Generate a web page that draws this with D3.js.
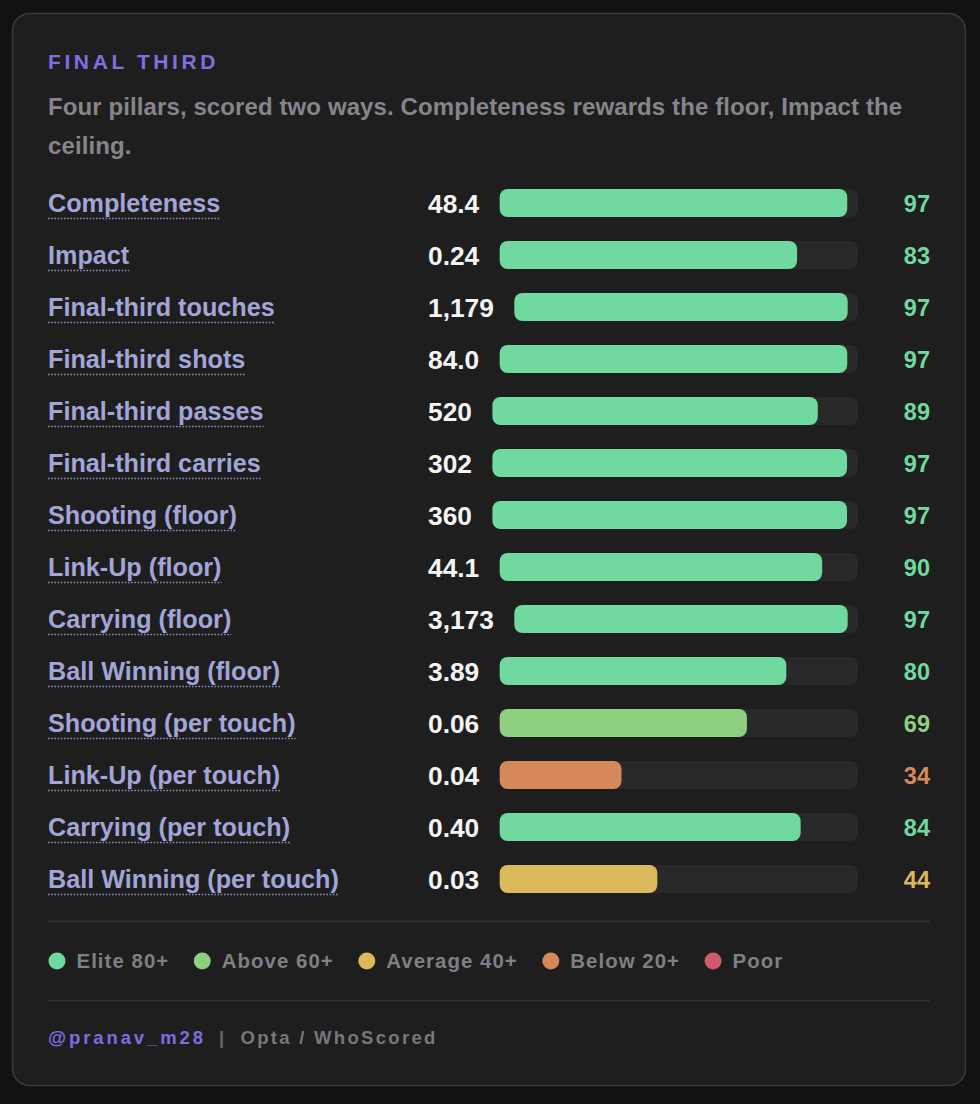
<!DOCTYPE html>
<html>
<head>
<meta charset="utf-8">
<script src="https://cdn.jsdelivr.net/npm/d3@7"></script>
<style>
  html, body { margin: 0; padding: 0; background: #121212; }
  svg { display: block; }
  text { font-family: "Liberation Sans", Arial, Helvetica, sans-serif; font-weight: bold; }
</style>
</head>
<body>
<div id="chart"></div>
<script>
// ---- data ----
const title = "FINAL THIRD";
const subtitleLines = ["Four pillars, scored two ways. Completeness rewards the floor, Impact the", "ceiling."];
const metrics = ["Completeness", "Impact", "Final-third touches", "Final-third shots", "Final-third passes",
  "Final-third carries", "Shooting (floor)", "Link-Up (floor)", "Carrying (floor)", "Ball Winning (floor)",
  "Shooting (per touch)", "Link-Up (per touch)", "Carrying (per touch)", "Ball Winning (per touch)"];
const rawValues = ["48.4", "0.24", "1,179", "84.0", "520", "302", "360", "44.1", "3,173", "3.89", "0.06", "0.04", "0.40", "0.03"];
const percentiles = [97, 83, 97, 97, 89, 97, 97, 90, 97, 80, 69, 34, 84, 44];
const tierLabels = ["Elite 80+", "Above 60+", "Average 40+", "Below 20+", "Poor"];
const tierColors = ["#6fd99f", "#8fcf80", "#dcb95b", "#d5895a", "#d05a6d"];
const tierThresholds = [20, 40, 60, 80];
const handle = "@pranav_m28";
const source = "Opta / WhoScored";

// ---- layout ----
const W = 980, H = 1104;
const svg = d3.select("#chart").append("svg").attr("width", W).attr("height", H);

svg.append("rect").attr("x", 12.5).attr("y", 13.5).attr("width", 953).attr("height", 1072)
  .attr("rx", 17).attr("fill", "#1e1e1e").attr("stroke", "#3b3b3b").attr("stroke-width", 1.5);

const left = 48, right = 930;

svg.append("text").attr("x", left).attr("y", 68.5).text(title)
  .attr("fill", "#7f6fe0").attr("font-size", 21).attr("letter-spacing", 3.6);

svg.append("g").selectAll("text").data(subtitleLines).join("text")
  .attr("x", left).attr("y", (d, i) => 114.5 + i * 39)
  .attr("fill", "#85858b").attr("font-size", 24).attr("letter-spacing", 0.1)
  .text(d => d);

const colorScale = d3.scaleThreshold().domain(tierThresholds).range(tierColors.slice().reverse());

const yScale = d3.scalePoint().domain(metrics).range([203, 203 + 52 * (metrics.length - 1)]);

const rows = svg.append("g").selectAll("g").data(metrics).join("g")
  .attr("transform", d => `translate(0,${yScale(d)})`);

const valueX = 428, trackEnd = 858, barH = 28;

rows.each(function(m, i) {
  const g = d3.select(this);
  const lab = g.append("text").attr("x", left).attr("y", 9).text(m)
    .attr("fill", "#a2a5d8").attr("font-size", 25.2);
  const lw = lab.node().getComputedTextLength();
  g.append("line").attr("x1", left).attr("x2", left + lw).attr("y1", 15.5).attr("y2", 15.5)
    .attr("stroke", "#8a8db8").attr("stroke-width", 1.6).attr("stroke-dasharray", "1.6,1.6");

  const val = g.append("text").attr("x", valueX).attr("y", 9.5).text(rawValues[i])
    .attr("fill", "#f4f4f4").attr("font-size", 26.3);
  const vw = val.node().getComputedTextLength();
  const x = d3.scaleLinear().domain([0, 100]).range([valueX + vw + 20.5, trackEnd]);

  g.append("rect").attr("x", x(0)).attr("y", -barH / 2).attr("width", x(100) - x(0)).attr("height", barH)
    .attr("rx", 8).attr("fill", "#292929");
  g.append("rect").attr("x", x(0)).attr("y", -barH / 2).attr("width", x(percentiles[i]) - x(0)).attr("height", barH)
    .attr("rx", 8).attr("fill", colorScale(percentiles[i]));

  g.append("text").attr("x", right).attr("y", 8.5).attr("text-anchor", "end")
    .text(percentiles[i]).attr("fill", colorScale(percentiles[i])).attr("font-size", 23.5);
});

// dividers
[921.5, 1000.5].forEach(y => svg.append("line").attr("x1", left).attr("x2", right).attr("y1", y).attr("y2", y)
  .attr("stroke", "#333333").attr("stroke-width", 1.5));

// legend
const legend = svg.append("g");
let cx = left + 9;
tierLabels.forEach((t, i) => {
  legend.append("circle").attr("cx", cx).attr("cy", 961).attr("r", 8.5).attr("fill", tierColors[i]);
  const tx = legend.append("text").attr("x", cx + 19.5).attr("y", 968).text(t)
    .attr("fill", "#7f7f85").attr("font-size", 20.4).attr("letter-spacing", 1.05);
  cx = cx + 19.5 + tx.node().getComputedTextLength() + 33;
});

// footer
const f1 = svg.append("text").attr("x", left).attr("y", 1043.5).text(handle)
  .attr("fill", "#7c6ee0").attr("font-size", 18.5).attr("letter-spacing", 2.9);
const w1 = f1.node().getComputedTextLength();
svg.append("text").attr("x", left + w1 + 13).attr("y", 1043.5).text("|")
  .attr("fill", "#66666c").attr("font-size", 18.5);
svg.append("text").attr("x", left + w1 + 34.5).attr("y", 1043.5).text(source)
  .attr("fill", "#77777d").attr("font-size", 18.5).attr("letter-spacing", 2.3);
</script>
</body>
</html>
